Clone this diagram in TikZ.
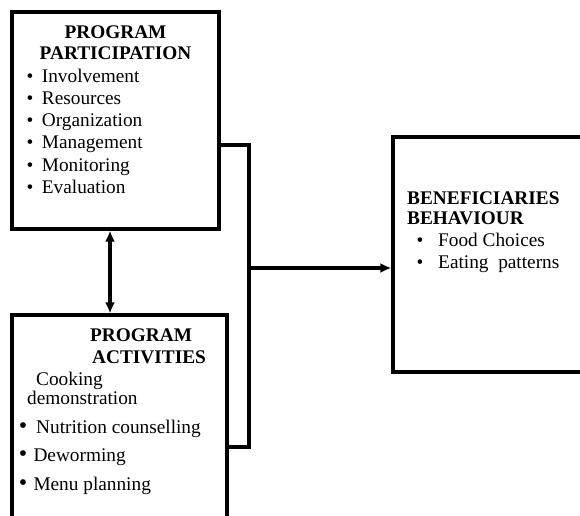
\documentclass[tikz,border=0pt]{standalone}
\usepackage{fontspec}
\setmainfont{Liberation Serif}
\usetikzlibrary{arrows.meta}
\begin{document}
\begin{tikzpicture}[x=1pt,y=-1pt,
  box/.style={draw=black,line width=3.2pt,rectangle,inner sep=0pt,fill=white},
  txt/.style={anchor=base west,inner sep=0pt,font=\fontsize{19.3}{22}\selectfont},
  hd/.style={txt,font=\fontsize{19.3}{22}\selectfont\bfseries},
  bul/.style={anchor=base,inner sep=0pt,font=\fontsize{19.3}{22}\selectfont},
  conn/.style={line width=3.2pt},
  tip/.style={-{Latex[length=11pt,width=10pt]}}]
\clip (0,0) rectangle (580,515);
\fill[white] (0,0) rectangle (580,515);
% boxes
\node[box,minimum width=207pt,minimum height=217pt] (box1) at (115.5,120.5) {};
\node[box,minimum width=215pt,minimum height=240pt] (box2) at (119.5,435) {};
\node[box,minimum width=220pt,minimum height=235pt] (box3) at (503,254.5) {};
% box1 text
\node[hd,anchor=base] (p1) at (115.5,38.3) {PROGRAM};
\node[hd,anchor=base] (p2) at (115.5,59.5) {PARTICIPATION};
\foreach \t [count=\i] in {Involvement,Resources,Organization,Management,Monitoring,Evaluation}{
  \node[bul] (b1\i) at (30,82+22.3*\i-22.3) {\textbullet};
  \node[txt] (t1\i) at (41.7,82+22.3*\i-22.3) {\t};
}
% box2 text
\node[hd] (a1) at (90,341.7) {PROGRAM};
\node[hd] (a2) at (92,363.3) {ACTIVITIES};
\node[txt] (a3) at (36,385) {Cooking};
\node[txt] (a4) at (27,404.3) {demonstration};
\node[bul,font=\fontsize{24}{22}\selectfont] (ab1) at (23,433.3) {\textbullet};
\node[txt] (a5) at (36,433.3) {Nutrition counselling};
\node[bul,font=\fontsize{24}{22}\selectfont] (ab2) at (23,461.7) {\textbullet};
\node[txt] (a6) at (33.3,461.7) {Deworming};
\node[bul,font=\fontsize{24}{22}\selectfont] (ab3) at (23,490) {\textbullet};
\node[txt] (a7) at (33.3,490) {Menu planning};
% box3 text
\node[hd] (c1) at (407,204) {BENEFICIARIES};
\node[hd] (c2) at (407,224.3) {BEHAVIOUR};
\node[bul] (cb1) at (420,246) {\textbullet};
\node[txt] (c3) at (438,246) {Food Choices};
\node[bul] (cb2) at (420,268.3) {\textbullet};
\node[txt] (c4) at (438,268.3) {Eating\ \ patterns};
% connectors
\coordinate (bustop) at (249,145);
\coordinate (busbot) at (249,447);
\coordinate (busmid) at (249,268);
\coordinate (ax) at (110,0);
\draw[conn,line join=miter] (bustop -| box1.east) -- (bustop) -- (busbot) -- (busbot -| box2.east);
\draw[conn,tip] (busmid) -- (busmid -| box3.west);
\draw[conn,{Latex[length=11pt,width=10pt]}-{Latex[length=11pt,width=10pt]}] (ax |- box1.south) -- (ax |- box2.north);
\end{tikzpicture}
\end{document}
